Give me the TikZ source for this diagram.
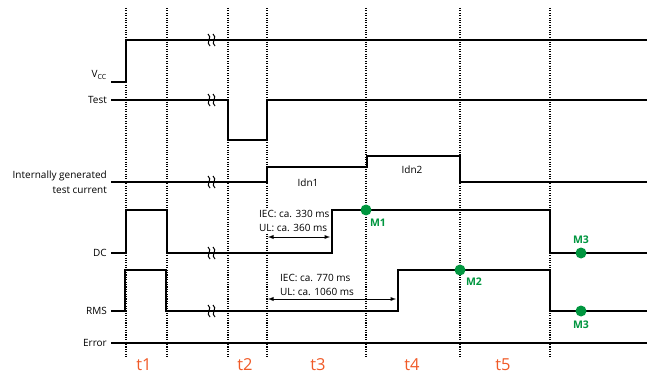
\documentclass[tikz,border=0pt]{standalone}
\usepackage{fontspec}
\setmainfont{Open Sans}
\usepackage{xcolor}
\usetikzlibrary{positioning, arrows.meta}
\definecolor{markgreen}{HTML}{00963F}
\definecolor{phaseorange}{HTML}{F05A28}

\begin{document}
\begin{tikzpicture}[x=1pt, y=-1pt, >=latex,
    signal/.style={line width=1.6pt, line join=miter},
    gridline/.style={line width=1.1pt, dash pattern=on 1.1pt off 1.3pt},
    lbl/.style={font=\fontsize{10}{15}\selectfont, anchor=east, inner sep=1pt, align=right},
    phase/.style={font=\fontsize{16.5}{18}\selectfont, text=phaseorange, inner sep=0pt},
    meas/.style={font=\fontsize{10}{14}\selectfont, align=left, anchor=west, inner sep=1pt, fill=white},
    mdot/.style={circle, fill=markgreen, inner sep=0pt, minimum size=11pt},
    mlbl/.style={font=\bfseries\fontsize{10.5}{12}\selectfont, text=markgreen, inner sep=0pt},
    brk/.style={line width=1pt}]
    \useasboundingbox (0,0) rectangle (647,374);

    % 1. Dotted time marks
    \foreach \x in {126,167,228,267,366,460,550}
      \draw[gridline] (\x,8) -- (\x,358);

    % 2. Signal names
    \node[lbl] (vcc) at (108,75) {V\textsubscript{CC}};
    \node[lbl] (test) at (108,100) {Test};
    \node[lbl] (cur) at (108,182) {Internally generated\\test current};
    \node[lbl] (dc) at (108,253) {DC};
    \node[lbl] (rms) at (108,311) {RMS};
    \node[lbl] (err) at (108,343) {Error};

    % 3. Signals
    \draw[signal] (111,82) -- (126,82) -- (126,40) -- (647,40);
    \draw[signal] (111,100) -- (228,100) -- (228,140) -- (267,140) -- (267,100) -- (647,100);
    \draw[signal] (111,182) -- (267,182) -- (267,167) -- (367,167) -- (367,156)
      -- (460,156) -- (460,182) -- (647,182);
    \draw[signal] (111,253) -- (126,253) -- (126,210) -- (167,210) -- (167,253)
      -- (332,253) -- (332,210) -- (550,210) -- (550,253) -- (647,253);
    \draw[signal] (111,311) -- (125,311) -- (125,270) -- (166,270) -- (166,311)
      -- (398,311) -- (398,270) -- (550,270) -- (550,311) -- (647,311);
    \draw[signal] (111,343) -- (647,343);

    % 4. Break marks
    \foreach \y in {40,100,182,253,311} {
      \draw[brk] (208,\y-6) .. controls (213,\y-3) and (205,\y+3) .. (210,\y+6);
      \draw[brk] (213,\y-6) .. controls (218,\y-3) and (210,\y+3) .. (215,\y+6);
    }

    % 5. Test current levels
    \node[font=\fontsize{10}{12}\selectfont] (idn1) at (308,183) {Idn1};
    \node[font=\fontsize{10}{12}\selectfont] (idn2) at (412,170) {Idn2};

    % 6. Response times
    \coordinate (dcA) at (268,237);
    \coordinate (dcB) at (330,237);
    \draw[<->, line width=0.9pt] (dcA) -- (dcB);
    \node[meas] (dct) at (258,221) {IEC: ca. 330 ms\\UL: ca. 360 ms};
    \coordinate (rmsA) at (268,299);
    \coordinate (rmsB) at (396,299);
    \draw[<->, line width=0.9pt] (rmsA) -- (rmsB);
    \node[meas] (rmst) at (279,285) {IEC: ca. 770 ms\\UL: ca. 1060 ms};

    % 7. Measurement points
    \node[mdot] (m1) at (366,210) {};
    \node[mlbl] (m1t) at (378,223) {M1};
    \node[mdot] (m2) at (460,270) {};
    \node[mlbl] (m2t) at (474,282) {M2};
    \node[mdot] (m3a) at (581,253) {};
    \node[mlbl] (m3at) at (581,240) {M3};
    \node[mdot] (m3b) at (581,311) {};
    \node[mlbl] (m3bt) at (581,325) {M3};

    % 8. Phases
    \node[phase] (t1) at (144,365) {t1};
    \node[phase] (t2) at (245,365) {t2};
    \node[phase] (t3) at (318,365) {t3};
    \node[phase] (t4) at (412,365) {t4};
    \node[phase] (t5) at (503,365) {t5};

\end{tikzpicture}
\end{document}
